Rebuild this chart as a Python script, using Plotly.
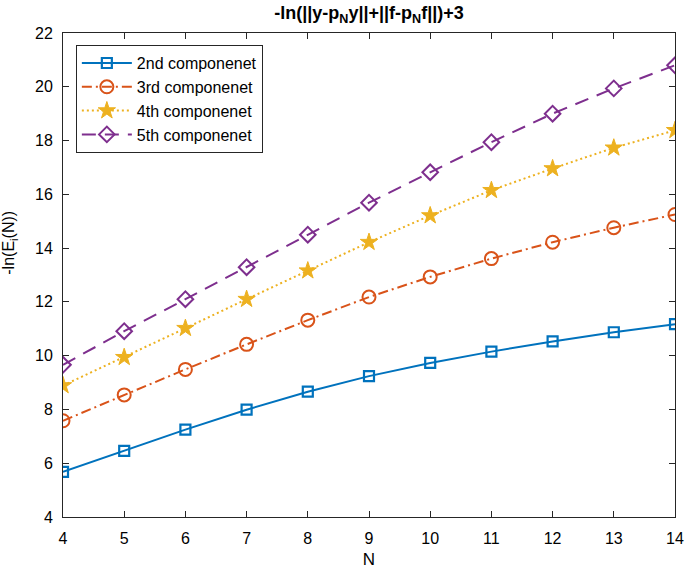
import plotly.graph_objects as go

N = [4, 5, 6, 7, 8, 9, 10, 11, 12, 13, 14]
comp2 = [5.68, 6.46, 7.25, 7.99, 8.66, 9.24, 9.73, 10.15, 10.53, 10.87, 11.17]
comp3 = [7.58, 8.54, 9.49, 10.42, 11.32, 12.18, 12.93, 13.61, 14.22, 14.76, 15.25]
comp4 = [8.89, 9.94, 11.02, 12.10, 13.16, 14.22, 15.21, 16.15, 16.96, 17.73, 18.38]
comp5 = [9.66, 10.91, 12.10, 13.29, 14.50, 15.69, 16.82, 17.94, 19.00, 19.94, 20.80]
names = ["2nd componenet", "3rd componenet", "4th componenet", "5th componenet"]
x_ticks = [4, 5, 6, 7, 8, 9, 10, 11, 12, 13, 14]
y_ticks = [4, 6, 8, 10, 12, 14, 16, 18, 20, 22]

FONT = "Liberation Sans, Arial, Helvetica, sans-serif"
AX = "#262626"

fig = go.Figure()
fig.add_trace(go.Scatter(
    x=N, y=comp2, name=names[0], mode="lines+markers",
    line=dict(color="#0072BD", width=2),
    marker=dict(symbol="square-open", size=10, color="#0072BD", line=dict(width=2.2))))
fig.add_trace(go.Scatter(
    x=N, y=comp3, name=names[1], mode="lines+markers",
    line=dict(color="#D95319", width=2, dash="10px,4px,2px,4px"),
    marker=dict(symbol="circle-open", size=13, color="#D95319", line=dict(width=2))))
fig.add_trace(go.Scatter(
    x=N, y=comp4, name=names[2], mode="lines+markers",
    line=dict(color="#EDB120", width=2, dash="2px,3px"),
    marker=dict(symbol="star", size=13, color="#EDB120", line=dict(width=1, color="#EDB120"))))
fig.add_trace(go.Scatter(
    x=N, y=comp5, name=names[3], mode="lines+markers",
    line=dict(color="#7E2F8E", width=2, dash="14px,9px"),
    marker=dict(symbol="diamond-open", size=12, color="#7E2F8E", line=dict(width=2))))

axis_common = dict(
    showgrid=False, zeroline=False, showline=True, linecolor=AX, linewidth=1,
    mirror="ticks", ticks="inside", ticklen=6, tickcolor=AX, tickwidth=1,
    tickfont=dict(family=FONT, size=16, color="black"), automargin=False,
)

fig.update_layout(
    width=685, height=572,
    margin=dict(l=63, r=10, t=33, b=55),
    paper_bgcolor="white", plot_bgcolor="white",
    font=dict(family=FONT, color="black"),
    title=dict(
        text="<b>-ln(||y-p<sub>N</sub>y||+||f-p<sub>N</sub>f||)+3</b>",
        x=0.5, xanchor="center", xref="paper",
        y=1 - 13 / 572, yanchor="middle", yref="container",
        font=dict(family=FONT, size=18, color="black")),
    xaxis=dict(range=[4, 14], tickvals=x_ticks, ticklabelstandoff=7,
               title=dict(text="N", font=dict(family=FONT, size=17), standoff=6),
               **axis_common),
    yaxis=dict(range=[4, 22], tickvals=y_ticks, ticklabelstandoff=6,
               **axis_common),
    legend=dict(
        x=0.021, y=0.975, xanchor="left", yanchor="top",
        bgcolor="white", bordercolor=AX, borderwidth=1,
        font=dict(family=FONT, size=16, color="black"),
        tracegroupgap=0, itemwidth=50),
    showlegend=True,
    annotations=[dict(
        text="-ln(E<sub>i</sub>(N))", textangle=-90,
        xref="paper", x=0, xanchor="center", xshift=-53,
        yref="y", y=14.2, yanchor="middle", showarrow=False,
        font=dict(family=FONT, size=16, color="black"))],
)

fig.write_html(
    "out.html",
    config={"displayModeBar": False, "staticPlot": True},
    post_script="document.body.style.margin='0px';document.body.style.overflow='hidden';",
)
